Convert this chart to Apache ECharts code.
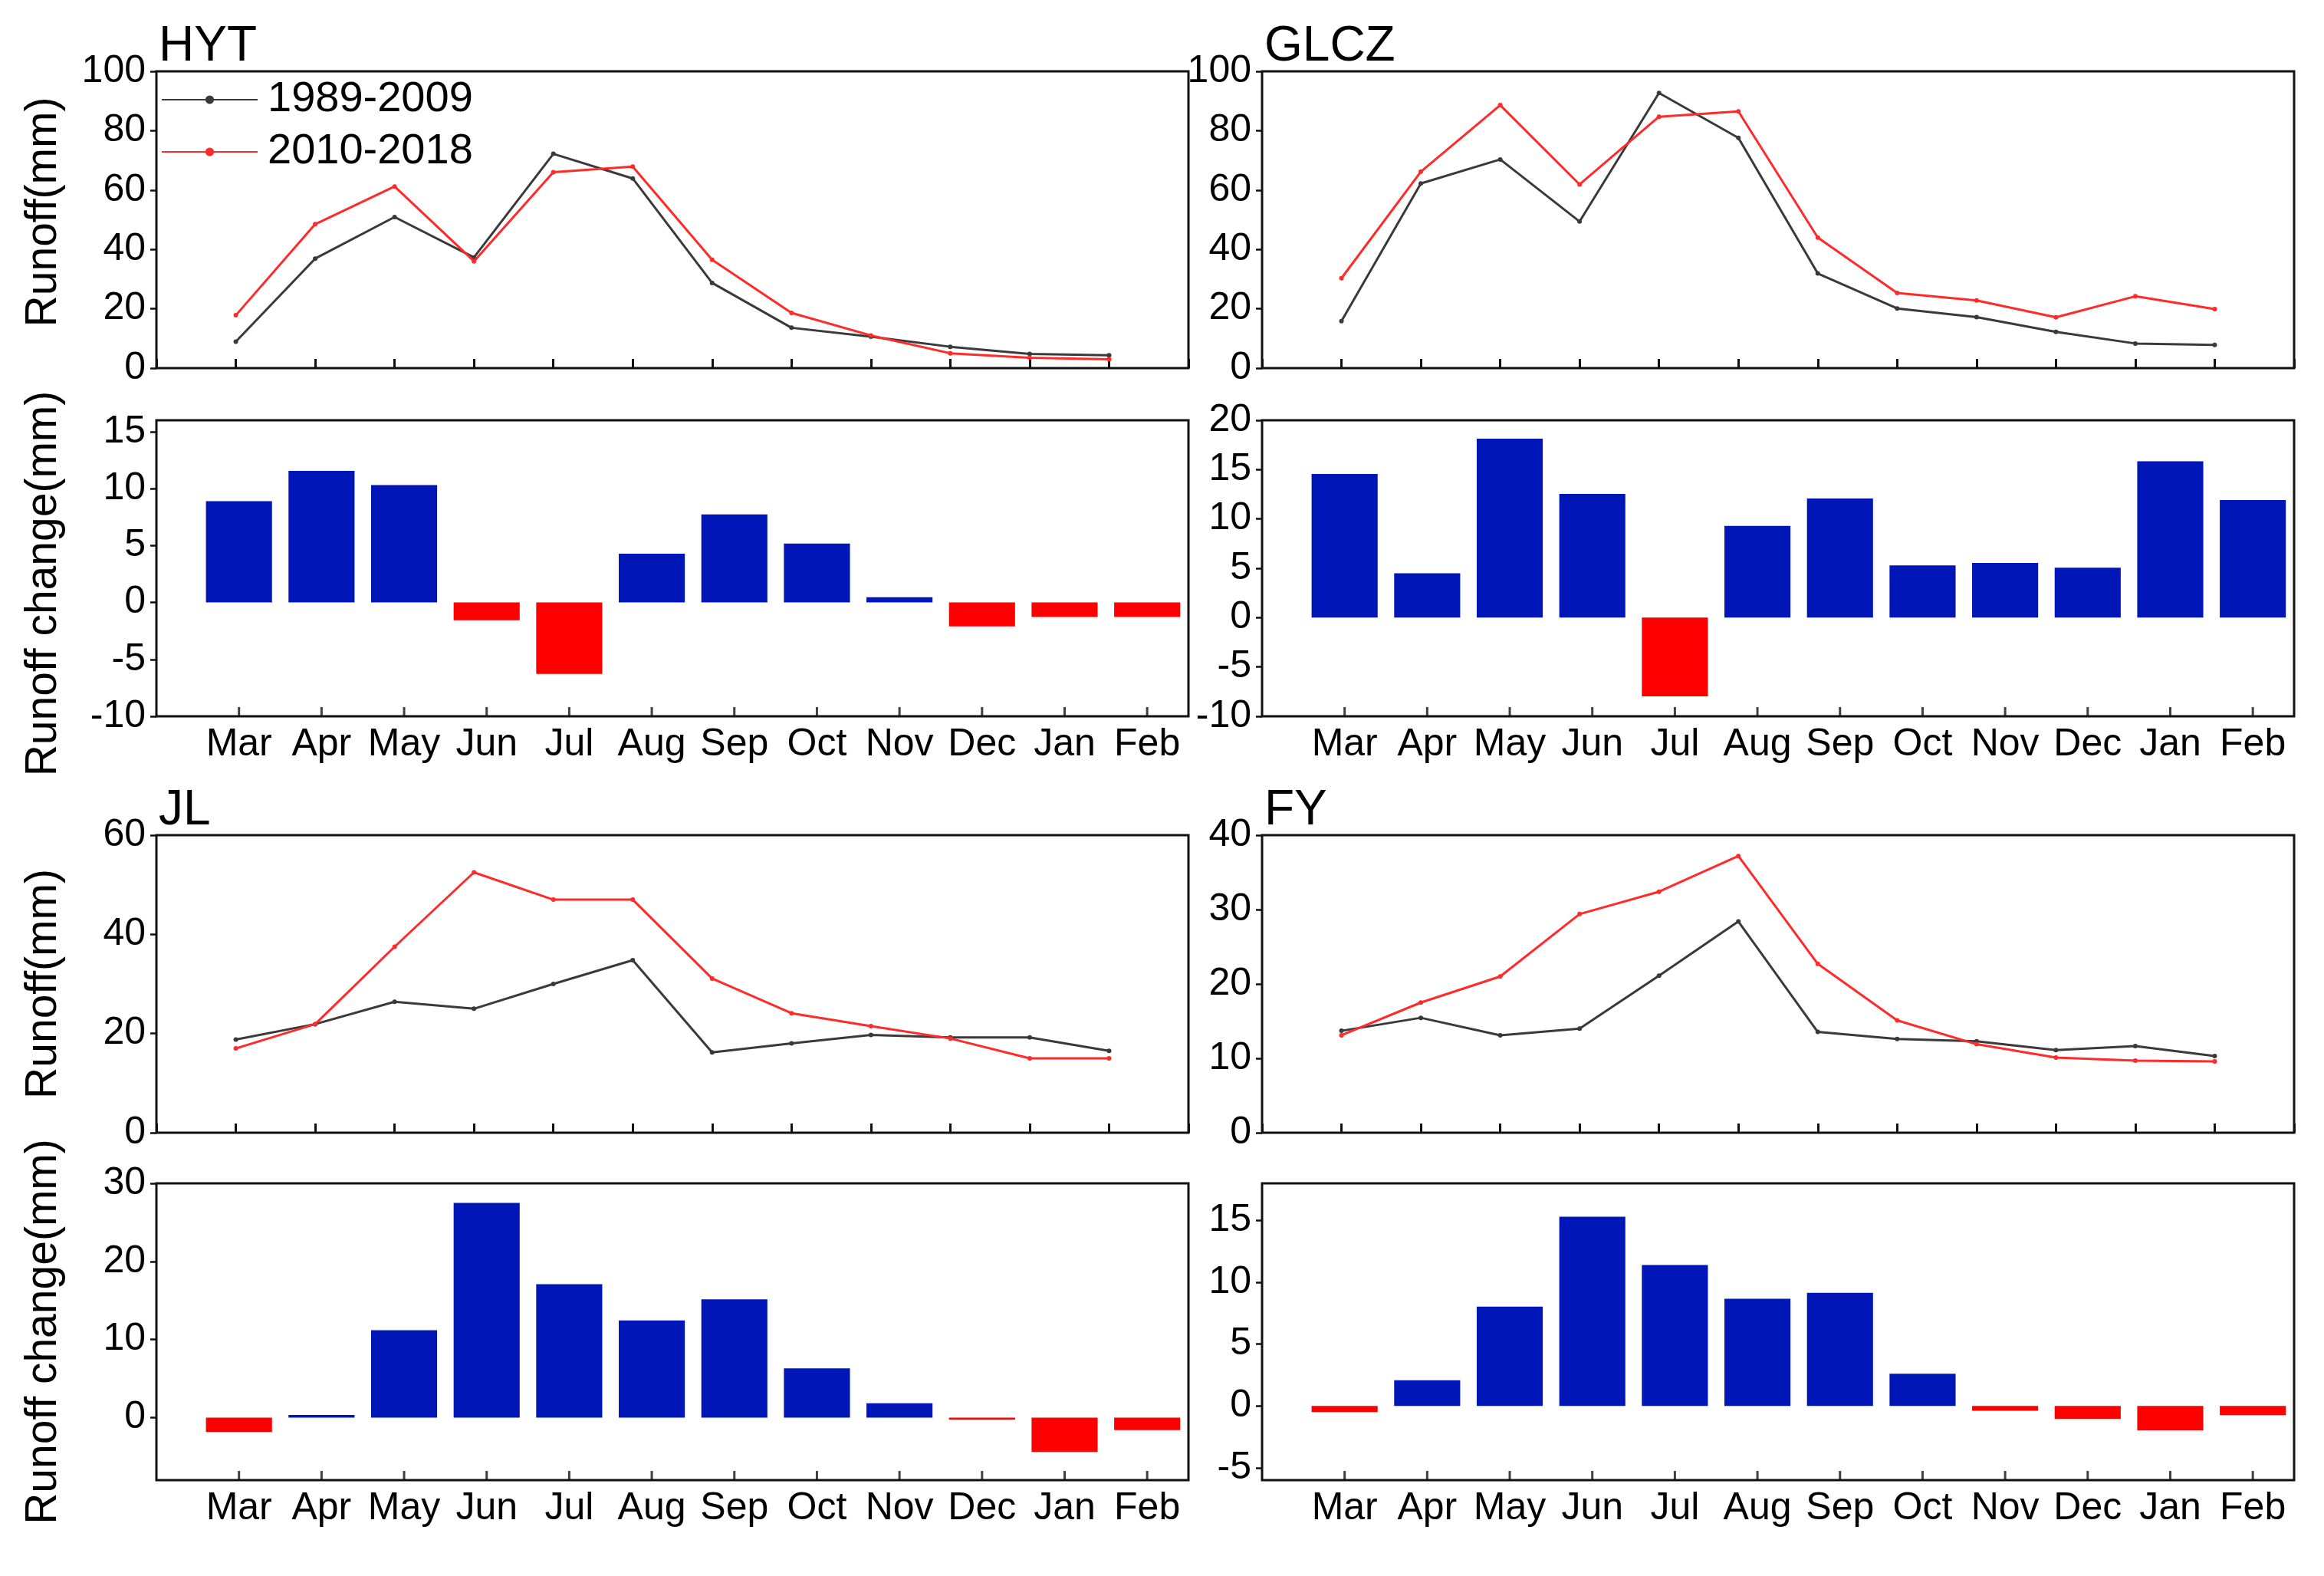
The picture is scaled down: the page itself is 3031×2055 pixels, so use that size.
<!DOCTYPE html>
<html><head><meta charset="utf-8">
<script src="https://cdn.jsdelivr.net/npm/echarts@6/dist/echarts.min.js"></script>
<style>html,body{margin:0;padding:0;background:#fff}#c{width:3031px;height:2055px}</style>
</head><body><div id="c"></div>
<script>
// ---------- data ----------
const months = ['Mar','Apr','May','Jun','Jul','Aug','Sep','Oct','Nov','Dec','Jan','Feb'];
const stations = ['HYT','GLCZ','JL','FY'];
const periodNames = ['1989-2009','2010-2018'];

const hytRunoffEarly = [8.9, 36.9, 50.9, 37.3, 72.2, 63.9, 28.7, 13.6, 10.6, 7.2, 4.8, 4.3];
const hytRunoffLate  = [17.8, 48.5, 61.2, 36.0, 66.0, 67.9, 36.5, 18.6, 11.0, 5.0, 3.5, 3.0];
const hytChange      = [8.9, 11.55, 10.3, -1.57, -6.28, 4.28, 7.74, 5.18, 0.45, -2.1, -1.28, -1.28];

const glczRunoffEarly = [15.8, 62.2, 70.3, 49.4, 92.7, 77.6, 31.9, 20.1, 17.2, 12.2, 8.3, 7.8];
const glczRunoffLate  = [30.3, 66.2, 88.6, 61.9, 84.7, 86.5, 44.0, 25.3, 22.8, 17.1, 24.2, 19.9];
const glczChange      = [14.55, 4.49, 18.14, 12.54, -7.97, 9.29, 12.08, 5.29, 5.55, 5.06, 15.85, 11.92];

const jlRunoffEarly = [18.8, 21.9, 26.4, 25.0, 30.0, 34.8, 16.2, 18.0, 19.7, 19.2, 19.2, 16.5];
const jlRunoffLate  = [17.0, 21.9, 37.5, 52.5, 47.0, 47.0, 31.1, 24.1, 21.5, 19.0, 15.0, 15.0];
const jlChange      = [-1.85, 0.34, 11.2, 27.5, 17.1, 12.46, 15.15, 6.3, 1.85, -0.24, -4.38, -1.6];

const fyRunoffEarly = [13.7, 15.45, 13.1, 14.0, 21.1, 28.4, 13.55, 12.6, 12.3, 11.1, 11.65, 10.3];
const fyRunoffLate  = [13.1, 17.5, 21.0, 29.4, 32.4, 37.2, 22.7, 15.1, 11.9, 10.1, 9.7, 9.6];
const fyChange      = [-0.49, 2.07, 8.03, 15.3, 11.4, 8.67, 9.15, 2.6, -0.38, -1.06, -1.97, -0.74];

const runoffTicks = { HYT: [0, 100, 20], GLCZ: [0, 100, 20], JL: [0, 60, 20], FY: [0, 40, 10] };
const changeRange = { HYT: [-10, 16, 5], GLCZ: [-10, 20, 5], JL: [-8, 30, 10], FY: [-6, 18, 5] };

// ---------- layout / style ----------
const FONT = 'Liberation Sans, Arial, sans-serif';
const BLUE = '#0016b6', RED = '#ff0000';
const LINE_GREY = '#3a3a3a', LINE_RED = '#ff2a2a';
const colLeft = [204, 1646], plotW = 1346;
const rowTops = [[93, 548], [1089, 1543]];
const plotH = [[387, 386], [388, 387]];
const monthPos = months.map((m, i) => i + 1);

const panels = [
  { name: 'HYT',  early: hytRunoffEarly,  late: hytRunoffLate,  change: hytChange,  col: 0, row: 0 },
  { name: 'GLCZ', early: glczRunoffEarly, late: glczRunoffLate, change: glczChange, col: 1, row: 0 },
  { name: 'JL',   early: jlRunoffEarly,   late: jlRunoffLate,   change: jlChange,   col: 0, row: 1 },
  { name: 'FY',   early: fyRunoffEarly,   late: fyRunoffLate,   change: fyChange,   col: 1, row: 1 }
];

const grid = [], xAxis = [], yAxis = [], series = [], title = [];
const labelStyle = { color: '#000', fontSize: 50, fontFamily: FONT };
const mkTick = () => ({ show: true, inside: true, length: 12, lineStyle: { color: '#111', width: 3 } });

panels.forEach((p) => {
  const left = colLeft[p.col];
  const gLine = grid.length, gBar = gLine + 1;
  grid.push({ left: left, top: rowTops[p.row][0], width: plotW, height: plotH[p.row][0],
    show: true, borderColor: '#111', borderWidth: 3, backgroundColor: 'transparent' });
  grid.push({ left: left, top: rowTops[p.row][1], width: plotW, height: plotH[p.row][1],
    show: true, borderColor: '#111', borderWidth: 3, backgroundColor: 'transparent' });

  // x axes
  xAxis.push({ type: 'value', gridIndex: gLine, min: 0, max: 13, interval: 1, position: 'bottom',
    axisLine: { show: false, onZero: false }, splitLine: { show: false },
    axisTick: mkTick(), axisLabel: { show: false } });
  xAxis.push({ type: 'value', gridIndex: gBar, min: 0, max: 12.5, interval: 1, position: 'bottom',
    axisLine: { show: false, onZero: false }, splitLine: { show: false }, axisTick: { show: false },
    axisLabel: Object.assign({ margin: 12, customValues: monthPos,
      formatter: (v) => months[Math.round(v) - 1] || '' }, labelStyle) });

  // y axes
  const rt = runoffTicks[p.name];
  yAxis.push({ type: 'value', gridIndex: gLine, min: rt[0], max: rt[1], interval: rt[2],
    axisLine: { show: false, onZero: false }, splitLine: { show: false },
    axisTick: { show: true, inside: false, length: 8, lineStyle: { color: '#111', width: 2.5 } },
    axisLabel: Object.assign({ margin: 14 }, labelStyle),
    name: p.col === 0 ? 'Runoff(mm)' : '', nameLocation: 'middle', nameGap: 118,
    nameTextStyle: { color: '#000', fontSize: 57, fontFamily: FONT,
      padding: p.row === 0 ? [0, 0, 0, 20] : 0 } });
  const cr = changeRange[p.name];
  const yb = { type: 'value', gridIndex: gBar, min: cr[0], max: cr[1],
    axisLine: { show: false, onZero: false }, splitLine: { show: false },
    axisTick: { show: true, inside: false, length: 8, lineStyle: { color: '#111', width: 2.5 } },
    axisLabel: Object.assign({ margin: 14,
      showMinLabel: cr[0] % cr[2] === 0, showMaxLabel: cr[1] % cr[2] === 0 }, labelStyle),
    name: p.col === 0 ? 'Runoff change(mm)' : '', nameLocation: 'middle', nameGap: 118,
    nameTextStyle: { color: '#000', fontSize: 57, fontFamily: FONT,
      padding: p.row === 0 ? [0, 40, 0, 0] : 0 } };
  if (cr[0] % cr[2] === 0) { yb.interval = cr[2]; } else { yb.minInterval = cr[2]; yb.maxInterval = cr[2]; }
  yAxis.push(yb);

  // series
  const toPts = (arr) => arr.map((v, i) => [i + 1, v]);
  series.push({ type: 'line', name: periodNames[0], xAxisIndex: gLine, yAxisIndex: gLine,
    data: toPts(p.early), symbol: 'circle', symbolSize: 6,
    lineStyle: { color: LINE_GREY, width: 3 }, itemStyle: { color: LINE_GREY }, z: 3 });
  series.push({ type: 'line', name: periodNames[1], xAxisIndex: gLine, yAxisIndex: gLine,
    data: toPts(p.late), symbol: 'circle', symbolSize: 6,
    lineStyle: { color: LINE_RED, width: 3 }, itemStyle: { color: LINE_RED }, z: 4 });
  series.push({ type: 'bar', name: p.name + ' change', xAxisIndex: gBar, yAxisIndex: gBar,
    data: toPts(p.change), barWidth: '80%', z: 2,
    itemStyle: { color: (pr) => pr.value[1] >= 0 ? BLUE : RED } });
  // month tick marks on the bottom edge of the bar panel (placed through the axes' scales)
  series.push({ type: 'scatter', name: p.name + ' month ticks', xAxisIndex: gBar, yAxisIndex: gBar,
    data: monthPos.map((x) => [x, cr[0]]), symbol: 'rect', symbolSize: [3, 12],
    symbolOffset: [0, -6], itemStyle: { color: '#111' }, silent: true, clip: false, z: 5 });

  title.push({ text: p.name, left: left + 3, top: rowTops[p.row][0] - 64, padding: 0,
    textStyle: { color: '#000', fontSize: 64, fontWeight: 'normal', fontFamily: FONT } });
});

const chart = echarts.init(document.getElementById('c'), null, { renderer: 'canvas' });
chart.setOption({
  animation: false,
  backgroundColor: '#fff',
  title: title,
  legend: { data: periodNames, orient: 'vertical', left: 210, top: 102, padding: 0,
    itemWidth: 125, itemHeight: 14, itemGap: 12,
    textStyle: { color: '#000', fontSize: 56, fontFamily: FONT, padding: [0, 0, 0, 8] } },
  grid: grid, xAxis: xAxis, yAxis: yAxis, series: series
});
</script></body></html>
